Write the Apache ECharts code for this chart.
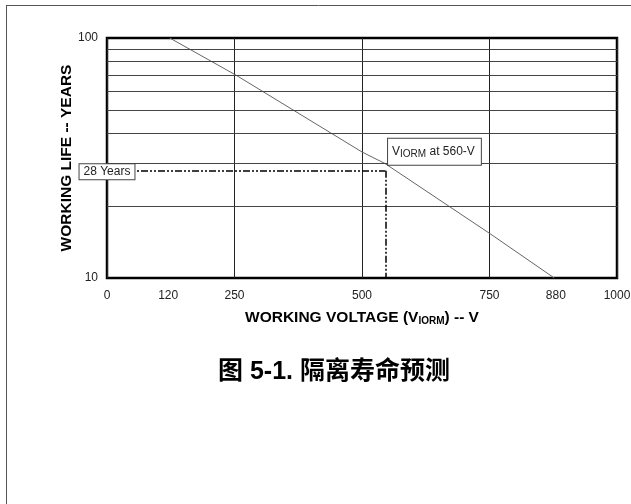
<!DOCTYPE html>
<html><head><meta charset="utf-8">
<script src="https://cdn.jsdelivr.net/npm/echarts@6/dist/echarts.min.js"></script>
<style>html,body{margin:0;padding:0;background:#fff}#c{width:631px;height:504px}</style>
</head><body><div id="c"></div>
<script>
// Data
const lifeCurve = [[123,100],[253,70],[500,33.5],[545,30],[753,15.2],[877,10]];
const xLabelValues = [0,120,250,500,750,880,1000];
const yGridValues = [20,30,40,50,60,70,80,90];
const markVoltage = 546;
const markYears = 28;
const axisBottomValue = 10;

const FONT = '"Liberation Sans", Arial, "Noto Sans CJK SC", sans-serif';
const chart = echarts.init(document.getElementById('c'), null, {renderer:'canvas'});

chart.setOption({
  animation:false,
  backgroundColor:'#fff',
  textStyle:{fontFamily:FONT},
  title:{
    text:'图 5-1. 隔离寿命预测',
    left:218, top:360,
    textStyle:{fontFamily:FONT, fontSize:25, fontWeight:'bold', color:'#000'},
    padding:0
  },
  graphic:[
    {type:'line', shape:{x1:6, y1:5.5, x2:631, y2:5.5}, style:{stroke:'#555', lineWidth:1}, silent:true},
    {type:'line', shape:{x1:6.5, y1:5, x2:6.5, y2:504}, style:{stroke:'#555', lineWidth:1}, silent:true}
  ],
  grid:{left:107, top:38, right:14, bottom:226, show:true, borderColor:'#000', borderWidth:2.5, backgroundColor:'transparent', outerBoundsMode:'none'},
  xAxis:{
    type:'value', min:0, max:1000, interval:250,
    axisLine:{show:false}, axisTick:{show:false},
    splitLine:{show:true, lineStyle:{color:'#222', width:1}},
    axisLabel:{customValues:xLabelValues, formatter:v => String(v), fontSize:12, color:'#222', fontFamily:FONT, margin:12, verticalAlign:'top'},
    name:'WORKING VOLTAGE (V{sub|IORM}) -- V',
    nameLocation:'middle', nameGap:31,
    nameTextStyle:{fontFamily:FONT, fontSize:15.5, fontWeight:'bold', color:'#000', verticalAlign:'top',
      rich:{sub:{fontFamily:FONT, fontSize:10, fontWeight:'bold', color:'#000', verticalAlign:'bottom', padding:[7,0,0,0]}}}
  },
  yAxis:{
    type:'log', logBase:10, min:10, max:100,
    axisLine:{show:false}, axisTick:{show:false}, splitLine:{show:false},
    axisLabel:{fontSize:12, color:'#222', fontFamily:FONT, margin:9},
    name:'WORKING LIFE -- YEARS',
    nameLocation:'middle', nameGap:33, nameRotate:90, nameMoveOverlap:false,
    nameTextStyle:{fontFamily:FONT, fontSize:15.5, fontWeight:'bold', color:'#000'}
  },
  series:[{
    type:'line', data:lifeCurve, showSymbol:false, symbol:'none', clip:false,
    lineStyle:{color:'#666', width:1}, z:3,
    markLine:{
      silent:true, symbol:['none','none'], animation:false,
      label:{show:false},
      data:[
        ...yGridValues.map(v => ({yAxis:v, lineStyle:{color:'#444', width:1, type:'solid'}})),
        [{coord:[0,markYears], lineStyle:{color:'#000', width:1.5, type:[7,2,2,2,2,2]}}, {coord:[markVoltage,markYears]}],
        [{coord:[markVoltage,markYears], lineStyle:{color:'#000', width:1.5, type:[7,2,2,2,2,2]}}, {coord:[markVoltage,axisBottomValue]}]
      ]
    },
    markPoint:{
      silent:true, symbol:'rect', symbolSize:0, animation:false,
      data:[
        {coord:[0,markYears], label:{show:true, position:'inside', formatter:'28 Years', fontFamily:FONT, fontSize:12, color:'#222',
          backgroundColor:'#fff', borderColor:'#444', borderWidth:1, padding:[2,4,1,4], offset:[0,1]}},
        {coord:[markVoltage,markYears], label:{show:true, position:'inside', formatter:'V{s|IORM} at 560-V',
          fontFamily:FONT, fontSize:12, color:'#222', backgroundColor:'#fff', borderColor:'#444', borderWidth:1,
          padding:[5,6,5,4], offset:[49,-19],
          rich:{s:{fontFamily:FONT, fontSize:10, color:'#222', verticalAlign:'bottom', padding:[6,0,0,0]}}}}
      ]
    }
  }]
});
</script></body></html>
